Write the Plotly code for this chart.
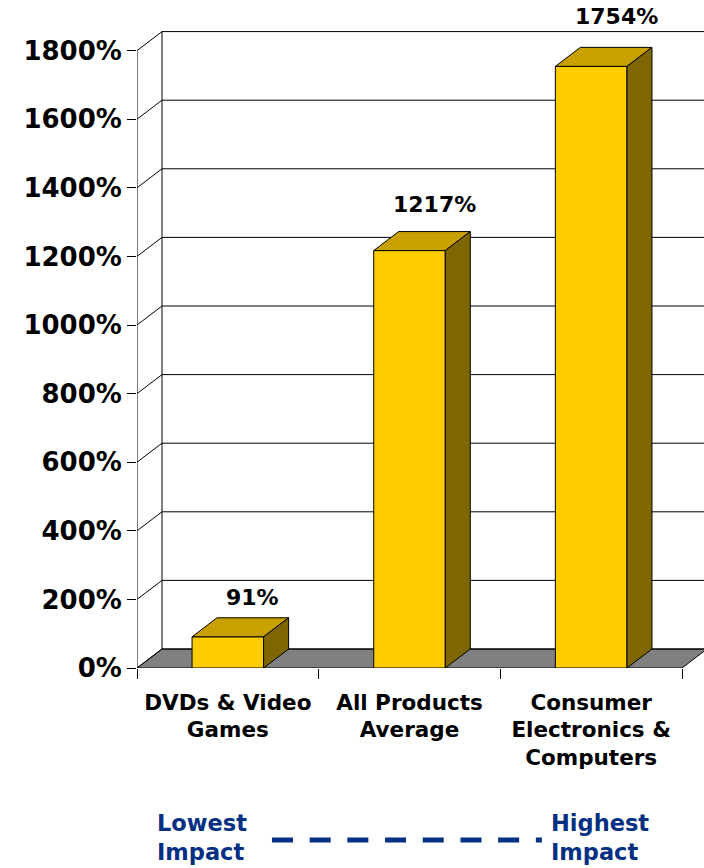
import plotly.graph_objects as go

# ---------------- data ----------------
categories = ["DVDs & Video<br>Games", "All Products<br>Average",
              "Consumer<br>Electronics &<br>Computers"]
values = [91, 1217, 1754]
value_labels = ["91%", "1217%", "1754%"]
y_tickvals = [0, 200, 400, 600, 800, 1000, 1200, 1400, 1600, 1800]
y_ticktext = ["0%", "200%", "400%", "600%", "800%", "1000%", "1200%",
              "1400%", "1600%", "1800%"]
scale_low = "Lowest<br>Impact"
scale_high = "Highest<br>Impact"

# ---------------- style ----------------
FRONT = "#FFCC00"
TOP = "#C8A000"
SIDE = "#806600"
FLOOR = "#808080"
NAVY = "#012F84"
FONT = "DejaVu Sans"
DX = 0.1376      # depth offset (category units)
DY = 55.4        # depth offset (value units)
HALF = 0.197     # half bar width
YMAX_VIEW = 1889.2

n = len(values)
xs = list(range(n))
x_left, x_right = -0.5, n - 0.5
top_val = y_tickvals[-1]

fig = go.Figure()

# front faces
fig.add_trace(go.Bar(x=xs, y=values, width=2 * HALF,
                     marker=dict(color=FRONT, line=dict(color="black", width=1)),
                     hoverinfo="skip", showlegend=False))

# top and side faces
tx, ty, sx, sy = [], [], [], []
for i, v in zip(xs, values):
    x0, x1 = i - HALF, i + HALF
    tx += [x0, x1, x1 + DX, x0 + DX, x0, None]
    ty += [v, v, v + DY, v + DY, v, None]
    sx += [x1, x1, x1 + DX, x1 + DX, x1, None]
    sy += [0, v, v + DY, DY, 0, None]
fig.add_trace(go.Scatter(x=tx, y=ty, mode="lines", fill="toself", fillcolor=TOP,
                         line=dict(color="black", width=1), hoverinfo="skip",
                         showlegend=False))
fig.add_trace(go.Scatter(x=sx, y=sy, mode="lines", fill="toself", fillcolor=SIDE,
                         line=dict(color="black", width=1), hoverinfo="skip",
                         showlegend=False))

shapes = []
# floor
shapes.append(dict(type="path", xref="x", yref="y", layer="below",
                   path=f"M {x_left},0 L {x_right},0 L {x_right + DX},{DY} L {x_left + DX},{DY} Z",
                   fillcolor=FLOOR, line=dict(color="black", width=1)))
# left wall verticals
shapes.append(dict(type="line", xref="x", yref="y", layer="below",
                   x0=x_left, y0=0, x1=x_left, y1=top_val,
                   line=dict(color="black", width=1)))
shapes.append(dict(type="line", xref="x", yref="y", layer="below",
                   x0=x_left + DX, y0=DY, x1=x_left + DX, y1=top_val + DY,
                   line=dict(color="black", width=1)))
for v in y_tickvals:
    shapes.append(dict(type="line", xref="x", yref="y", layer="below",
                       x0=x_left, y0=v, x1=x_left + DX, y1=v + DY,
                       line=dict(color="black", width=1)))
    shapes.append(dict(type="line", xref="x", yref="y", layer="below",
                       x0=x_left + DX, y0=v + DY, x1=x_right + DX, y1=v + DY,
                       line=dict(color="black", width=1)))
# impact scale dashed line
shapes.append(dict(type="line", xref="paper", yref="paper",
                   x0=0.238, x1=0.714, y0=-0.2654, y1=-0.2654,
                   line=dict(color=NAVY, width=5, dash="21px,16.7px")))

annotations = []
for i, v, t in zip(xs, values, value_labels):
    annotations.append(dict(x=i + DX, y=v + DY, xref="x", yref="y", text=t,
                            showarrow=False, yanchor="middle",
                            yshift=20 + 0.006 * v,
                            font=dict(family=FONT, size=22, weight="bold", color="black")))
annotations.append(dict(x=0.032, y=-0.2620, xref="paper", yref="paper",
                        text=scale_low, showarrow=False, xanchor="left",
                        yanchor="middle", align="left",
                        font=dict(family=FONT, size=22.5, weight="bold", color=NAVY)))
annotations.append(dict(x=0.726, y=-0.2620, xref="paper", yref="paper",
                        text=scale_high, showarrow=False, xanchor="left",
                        yanchor="middle", align="left",
                        font=dict(family=FONT, size=22.5, weight="bold", color=NAVY)))

fig.update_layout(
    width=704, height=868,
    margin=dict(l=137, r=0, t=20, b=200),
    paper_bgcolor="white", plot_bgcolor="white",
    shapes=shapes, annotations=annotations,
    showlegend=False,
    xaxis=dict(range=[x_left, x_left + 567 / 181.67], tickvals=xs, ticktext=categories,
               ticks="", showgrid=False, zeroline=False, showline=False,
               ticklabelstandoff=19,
               tickfont=dict(family=FONT, size=21.5, weight="bold", color="black"),
               minor=dict(tickmode="array", tickvals=[x_left + k for k in range(n + 1)],
                          ticks="outside", ticklen=10, tickcolor="black", tickwidth=1,
                          showgrid=False)),
    yaxis=dict(range=[0, YMAX_VIEW], tickvals=y_tickvals, ticktext=y_ticktext,
               ticks="outside", ticklen=9, tickcolor="black", tickwidth=1,
               showgrid=False, zeroline=False, showline=False,
               tickfont=dict(family=FONT, size=26, weight="bold", color="black")),
)

fig.write_html("out.html", config={"displayModeBar": False},
               post_script="document.body.style.margin='0';document.body.style.overflow='hidden';")
